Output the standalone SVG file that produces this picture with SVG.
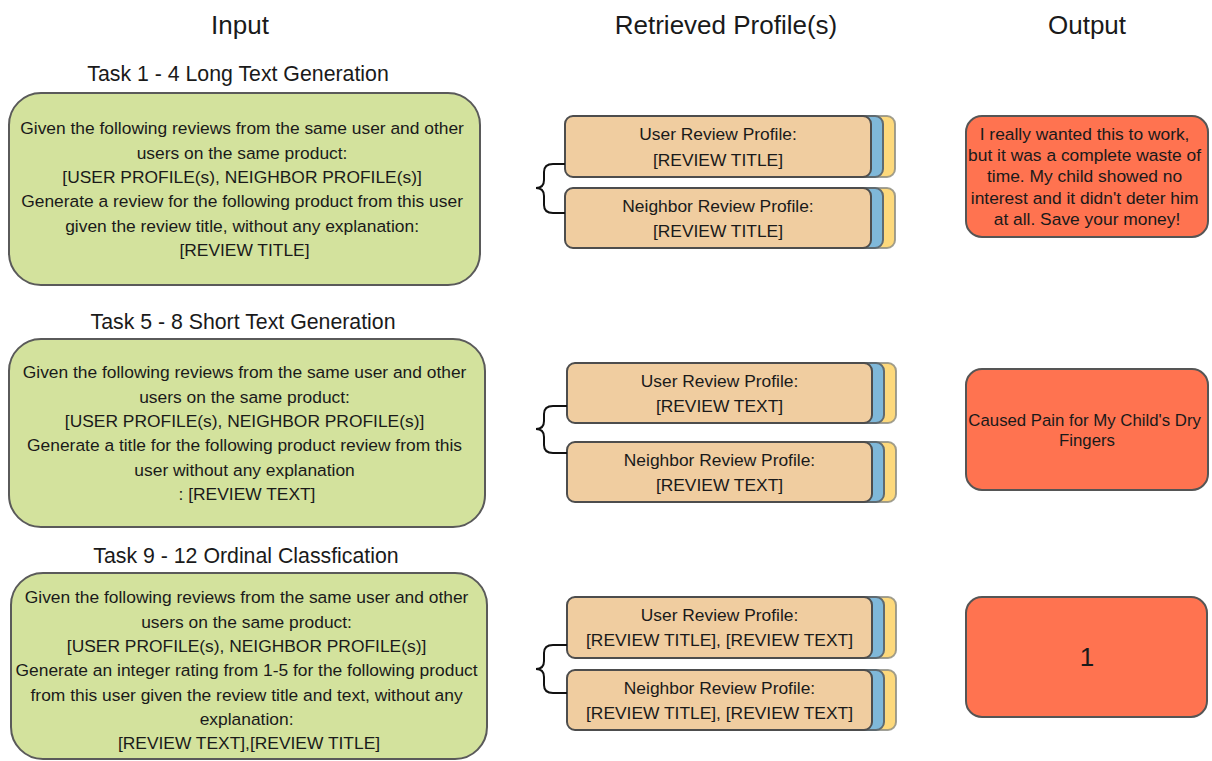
<svg xmlns="http://www.w3.org/2000/svg" width="1212" height="761" viewBox="0 0 1212 761">
<style>
text{font-family:"Liberation Sans",Arial,sans-serif;fill:#1a1a1a;text-anchor:middle}
.title{font-size:26px}
.task{font-size:21.3px}
.body{font-size:17.4px}
.small{font-size:16.8px}
.big{font-size:26px}
.in{fill:#d3e29d;stroke:#5a5a5a;stroke-width:2}
.card{fill:#f0cda0;stroke:#4d4d4d;stroke-width:2}
.blue{fill:#7fb8d9;stroke:#5f6a70;stroke-width:2}
.yel{fill:#fdd97c;stroke:#8a8a80;stroke-width:2;stroke-opacity:0.8}
.out{fill:#ff7350;stroke:#555;stroke-width:2}
.brace{fill:none;stroke:#111;stroke-width:2}
</style>
<rect width="1212" height="761" fill="#ffffff"/>

<g id="headers">
<text class="title" x="240" y="34">Input</text>
<text class="title" x="726" y="34">Retrieved Profile(s)</text>
<text class="title" x="1087" y="34">Output</text>
<text class="task" x="238" y="80.5">Task 1 - 4 Long Text Generation</text>
<text class="task" x="243" y="328.5">Task 5 - 8 Short Text Generation</text>
<text class="task" x="246" y="562.5">Task 9 - 12 Ordinal Classfication</text>
</g>

<g id="input1">
<rect class="in" x="9" y="93" width="471" height="192" rx="32"/>
<text class="body">
<tspan x="244.5" y="134.2">Given the following reviews from the same user and other</tspan>
<tspan x="244.5" y="158.6">users on the same product:</tspan>
<tspan x="244.5" y="183">[USER PROFILE(s), NEIGHBOR PROFILE(s)]</tspan>
<tspan x="244.5" y="207.4">Generate a review for the following product from this user</tspan>
<tspan x="244.5" y="231.8">given the review title, without any explanation:</tspan>
<tspan x="244.5" y="256.2">[REVIEW TITLE]</tspan>
</text>
</g>

<g id="input2">
<rect class="in" x="9" y="339" width="476" height="188" rx="32"/>
<text class="body">
<tspan x="247" y="378.2">Given the following reviews from the same user and other</tspan>
<tspan x="247" y="402.5">users on the same product:</tspan>
<tspan x="247" y="426.8">[USER PROFILE(s), NEIGHBOR PROFILE(s)]</tspan>
<tspan x="247" y="451.2">Generate a title for the following product review from this</tspan>
<tspan x="247" y="475.5">user without any explanation</tspan>
<tspan x="247" y="499.8">: [REVIEW TEXT]</tspan>
</text>
</g>

<g id="input3">
<rect class="in" x="11" y="573" width="476" height="186" rx="32"/>
<text class="body">
<tspan x="249" y="603.2">Given the following reviews from the same user and other</tspan>
<tspan x="249" y="627.5">users on the same product:</tspan>
<tspan x="249" y="651.8">[USER PROFILE(s), NEIGHBOR PROFILE(s)]</tspan>
<tspan x="249" y="676.2">Generate an integer rating from 1-5 for the following product</tspan>
<tspan x="249" y="700.5">from this user given the review title and text, without any</tspan>
<tspan x="249" y="724.8">explanation:</tspan>
<tspan x="249" y="749.2">[REVIEW TEXT],[REVIEW TITLE]</tspan>
</text>
</g>

<g id="profile1a">
<rect class="yel" x="589" y="116" width="306" height="61" rx="8"/>
<rect class="blue" x="577" y="116" width="306" height="61" rx="8"/>
<rect class="card" x="565" y="116" width="306" height="61" rx="8"/>
<text class="body"><tspan x="718" y="140.2">User Review Profile:</tspan><tspan x="718" y="166.2">[REVIEW TITLE]</tspan></text>
</g>
<g id="profile1b">
<rect class="yel" x="589" y="188" width="306" height="60" rx="8"/>
<rect class="blue" x="577" y="188" width="306" height="60" rx="8"/>
<rect class="card" x="565" y="188" width="306" height="60" rx="8"/>
<text class="body"><tspan x="718" y="212.2">Neighbor Review Profile:</tspan><tspan x="718" y="237.2">[REVIEW TITLE]</tspan></text>
</g>

<g id="profile2a">
<rect class="yel" x="591" y="363" width="305" height="60" rx="8"/>
<rect class="blue" x="579" y="363" width="305" height="60" rx="8"/>
<rect class="card" x="567" y="363" width="305" height="60" rx="8"/>
<text class="body"><tspan x="719.5" y="386.7">User Review Profile:</tspan><tspan x="719.5" y="411.7">[REVIEW TEXT]</tspan></text>
</g>
<g id="profile2b">
<rect class="yel" x="591" y="442" width="305" height="60" rx="8"/>
<rect class="blue" x="579" y="442" width="305" height="60" rx="8"/>
<rect class="card" x="567" y="442" width="305" height="60" rx="8"/>
<text class="body"><tspan x="719.5" y="465.7">Neighbor Review Profile:</tspan><tspan x="719.5" y="490.7">[REVIEW TEXT]</tspan></text>
</g>

<g id="profile3a">
<rect class="yel" x="591" y="597" width="305" height="61" rx="8"/>
<rect class="blue" x="579" y="597" width="305" height="61" rx="8"/>
<rect class="card" x="567" y="597" width="305" height="61" rx="8"/>
<text class="body"><tspan x="719.5" y="621.2">User Review Profile:</tspan><tspan x="719.5" y="646.2">[REVIEW TITLE], [REVIEW TEXT]</tspan></text>
</g>
<g id="profile3b">
<rect class="yel" x="591" y="670" width="305" height="60" rx="8"/>
<rect class="blue" x="579" y="670" width="305" height="60" rx="8"/>
<rect class="card" x="567" y="670" width="305" height="60" rx="8"/>
<text class="body"><tspan x="719.5" y="693.7">Neighbor Review Profile:</tspan><tspan x="719.5" y="718.7">[REVIEW TITLE], [REVIEW TEXT]</tspan></text>
</g>

<g id="output1">
<rect class="out" x="966" y="116" width="242" height="121" rx="16"/>
<text class="body">
<tspan x="1087" y="139.6">I really wanted this to work,</tspan>
<tspan x="1087" y="160.9">but it was a complete waste of</tspan>
<tspan x="1087" y="182.2">time. My child showed no</tspan>
<tspan x="1087" y="203.5">interest and it didn't deter him</tspan>
<tspan x="1087" y="224.8">at all. Save your money!</tspan>
</text>
</g>
<g id="output2">
<rect class="out" x="966" y="369" width="242" height="121" rx="16"/>
<text class="small">
<tspan x="1087" y="425.5">Caused Pain for My Child's Dry</tspan>
<tspan x="1087" y="446">Fingers</tspan>
</text>
</g>
<g id="output3">
<rect class="out" x="966" y="597" width="241" height="120" rx="16"/>
<text class="big" x="1087" y="666.4">1</text>
</g>

<g id="connectors">
<path class="brace" d="M565,164 H553 Q544,164 544,172 V180 Q544,188 536,188 Q544,188 544,196 V205 Q544,213 553,213 H565"/>
<path class="brace" d="M567,406 H553 Q544,406 544,414 V421 Q544,429 536,429 Q544,429 544,437 V445 Q544,453 553,453 H567"/>
<path class="brace" d="M567,645 H553 Q544,645 544,653 V661 Q544,669 536,669 Q544,669 544,677 V685 Q544,693 553,693 H567"/>
</g>
</svg>
